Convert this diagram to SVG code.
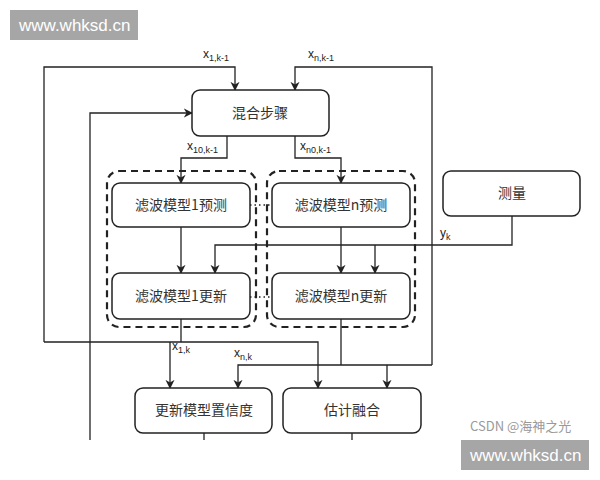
<svg xmlns="http://www.w3.org/2000/svg" width="600" height="480" viewBox="0 0 600 480">
<style>
.b{fill:#fff;stroke:#222;stroke-width:1.5}
.g{fill:none;stroke:#222;stroke-width:2.2;stroke-dasharray:7,5}
.t{font-family:"Noto Sans CJK SC","Liberation Sans",sans-serif;font-size:14px;fill:#333;text-anchor:middle}
.l{font-family:"Liberation Sans",sans-serif;font-size:12px;fill:#222}
.s{font-size:9px}
.c path{fill:none;stroke:#222;stroke-width:1.3}
.w{font-family:"Liberation Sans",sans-serif;font-size:17px;fill:#fff}
</style>
<defs><marker id="a" viewBox="0 0 10 10" refX="9" refY="5" markerWidth="7" markerHeight="7" orient="auto"><path d="M0,0L10,5L0,10L3,5z" fill="#222"/></marker></defs>
<rect width="600" height="480" fill="#fff"/>
<g id="g1"><rect class="g" x="107" y="171" width="149" height="156" rx="12"/></g>
<g id="gn"><rect class="g" x="267" y="171" width="148" height="156" rx="12"/></g>
<g class="c">
<path d="M44,342V67H235V90" marker-end="url(#a)"/>
<path d="M432,365V67H295V90" marker-end="url(#a)"/>
<path d="M90,440V113H192" marker-end="url(#a)"/>
<path d="M227,136V158H181V183" marker-end="url(#a)"/>
<path d="M295,136V158H341V183" marker-end="url(#a)"/>
<path d="M181,227V273" marker-end="url(#a)"/>
<path d="M341,227V273" marker-end="url(#a)"/>
<path d="M512,216V245H215V273" marker-end="url(#a)"/>
<path d="M375,245V273" marker-end="url(#a)"/>
<path d="M250,205H272M250,297H272" stroke-dasharray="1.5,3"/>
<path d="M44,342H318V388" marker-end="url(#a)"/>
<path d="M181,319V342"/>
<path d="M170,342V388" marker-end="url(#a)"/>
<path d="M341,319V365"/>
<path d="M432,365H238V388" marker-end="url(#a)"/>
<path d="M387,365V388" marker-end="url(#a)"/>
<path d="M204,433V440M352,433V440"/>
</g>
<g id="mix"><rect class="b" x="192" y="90" width="137" height="46" rx="8"/><text class="t" x="260" y="118">混合步骤</text></g>
<g id="f1p"><rect class="b" x="112" y="183" width="138" height="44" rx="8"/><text class="t" x="181" y="210">滤波模型1预测</text></g>
<g id="fnp"><rect class="b" x="272" y="183" width="138" height="44" rx="8"/><text class="t" x="341" y="210">滤波模型n预测</text></g>
<g id="f1u"><rect class="b" x="112" y="273" width="138" height="46" rx="8"/><text class="t" x="181" y="301">滤波模型1更新</text></g>
<g id="fnu"><rect class="b" x="272" y="273" width="138" height="46" rx="8"/><text class="t" x="341" y="301">滤波模型n更新</text></g>
<g id="meas"><rect class="b" x="443" y="171" width="137" height="45" rx="8"/><text class="t" x="512" y="198">测量</text></g>
<g id="conf"><rect class="b" x="135" y="388" width="137" height="45" rx="8"/><text class="t" x="204" y="415">更新模型置信度</text></g>
<g id="fuse"><rect class="b" x="283" y="388" width="138" height="45" rx="8"/><text class="t" x="352" y="415">估计融合</text></g>
<g id="labels">
<text class="l" x="203" y="58">x<tspan class="s" dy="3">1,k-1</tspan></text>
<text class="l" x="308" y="58">x<tspan class="s" dy="3">n,k-1</tspan></text>
<text class="l" x="187" y="150">x<tspan class="s" dy="3">10,k-1</tspan></text>
<text class="l" x="300" y="150">x<tspan class="s" dy="3">n0,k-1</tspan></text>
<text class="l" x="440" y="237">y<tspan class="s" dy="3">k</tspan></text>
<text class="l" x="172" y="350">x<tspan class="s" dy="3">1,k</tspan></text>
<text class="l" x="234" y="357">x<tspan class="s" dy="3">n,k</tspan></text>
</g>
<g id="wm">
<rect x="10" y="10" width="128" height="30" fill="#a6a6a6"/><text class="w" x="19" y="31">www.whksd.cn</text>
<rect x="461" y="440" width="128" height="30" fill="#a6a6a6"/><text class="w" x="470" y="461">www.whksd.cn</text>
<text x="470" y="431" font-family="Noto Sans CJK SC,Liberation Sans,sans-serif" font-size="13" fill="#999">CSDN @海神之光</text>
</g>
</svg>
